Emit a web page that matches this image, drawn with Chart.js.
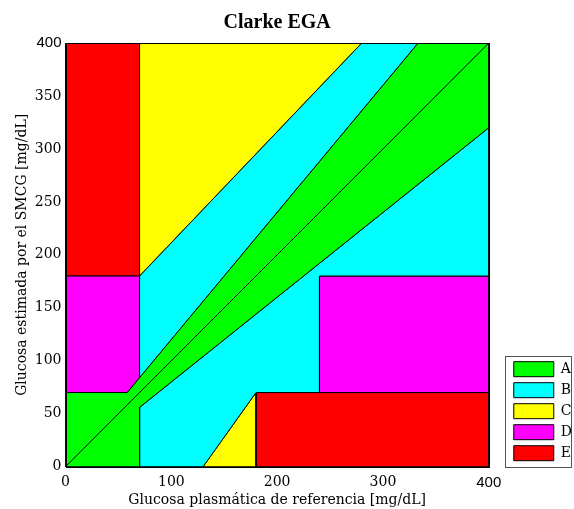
<!DOCTYPE html>
<html>
<head>
<meta charset="utf-8">
<script src="https://cdn.jsdelivr.net/npm/chart.js@4/dist/chart.umd.min.js"></script>
<style>
  html, body { margin: 0; padding: 0; background: #fff; }
  #wrap { width: 574px; height: 509px; }
</style>
</head>
<body>
<div id="wrap"><canvas id="ega"></canvas></div>
<script>
// Zone names and colours
const zoneLabels = ['A', 'B', 'C', 'D', 'E'];
const zoneColors = ['#00ff00', '#00ffff', '#ffff00', '#ff00ff', '#ff0000'];

// Zone outlines (reference glucose x, estimated glucose y), mg/dL
const zoneA_x = [0, 0, 58.3, 333.3, 400, 400, 70, 70, 0];
const zoneA_y = [0, 70, 70, 400, 400, 320, 56, 0, 0];
const zoneBup_x = [70, 70, 280, 333.3, 70];
const zoneBup_y = [84, 180, 400, 400, 84];
const zoneBlow_x = [70, 70, 400, 400, 240, 240, 180, 130, 70];
const zoneBlow_y = [0, 56, 320, 180, 180, 70, 70, 0, 0];
const zoneCup_x = [70, 70, 280, 70];
const zoneCup_y = [180, 400, 400, 180];
const zoneClow_x = [130, 180, 180, 130];
const zoneClow_y = [0, 70, 0, 0];
const zoneDleft_x = [0, 0, 70, 70, 58.3, 0];
const zoneDleft_y = [70, 180, 180, 84, 70, 70];
const zoneDright_x = [240, 240, 400, 400, 240];
const zoneDright_y = [70, 180, 180, 70, 70];
const zoneEup_x = [0, 0, 70, 70, 0];
const zoneEup_y = [180, 400, 400, 180, 180];
const zoneElow_x = [180, 180, 400, 400, 180];
const zoneElow_y = [0, 70, 70, 0, 0];
const identity_x = [0, 400];
const identity_y = [0, 400];

const xTicks = [0, 100, 200, 300, 400];
const yTicks = [0, 50, 100, 150, 200, 250, 300, 350, 400];

function pts(xs, ys) {
    return xs.map((x, i) => ({ x: x, y: ys[i] }));
}

function zone(label, xs, ys) {
    const c = zoneColors[zoneLabels.indexOf(label)];
    return {
        label: label,
        data: pts(xs, ys),
        showLine: true,
        fill: 'shape',
        backgroundColor: c,
        borderColor: '#000',
        borderWidth: 1,
        pointRadius: 0,
        tension: 0,
        order: 5
    };
}

const serif = 'DejaVu Serif';

// the "400" labels are in a sans face in the original
function tickFont(ctx) {
    const top = ctx.tick && ctx.tick.value === 400;
    return { family: top ? 'Liberation Sans' : serif, size: top ? 15 : 14 };
}

const datasets = [
    zone('A', zoneA_x, zoneA_y),
    zone('B', zoneBup_x, zoneBup_y),
    zone('B', zoneBlow_x, zoneBlow_y),
    zone('C', zoneCup_x, zoneCup_y),
    zone('C', zoneClow_x, zoneClow_y),
    zone('D', zoneDleft_x, zoneDleft_y),
    zone('D', zoneDright_x, zoneDright_y),
    zone('E', zoneEup_x, zoneEup_y),
    zone('E', zoneElow_x, zoneElow_y),
    {
        label: 'identity',
        data: pts(identity_x, identity_y),
        showLine: true,
        fill: false,
        borderColor: '#000',
        borderWidth: 1,
        pointRadius: 0,
        order: 0
    }
];

// push the legend a bit away from the plot, like the original
const legendShift = {
    id: 'legendShift',
    afterLayout(chart) {
        const lg = chart.legend;
        lg.left += 19;
        lg.right += 19;
    }
};

// frame round the plot and round the legend
const frames = {
    id: 'frames',
    afterDraw(chart) {
        const ctx = chart.ctx;
        const a = chart.chartArea;
        ctx.save();
        ctx.strokeStyle = '#000';
        ctx.lineWidth = 1;
        ctx.strokeRect(Math.round(a.left) + 0.5, Math.round(a.top) + 0.5,
            Math.round(a.right - a.left), Math.round(a.bottom - a.top));
        const boxes = chart.legend.legendHitBoxes;
        if (boxes && boxes.length) {
            const l = boxes[0].left - 9;
            const t = boxes[0].top - 6;
            ctx.strokeStyle = '#555';
            ctx.strokeRect(Math.round(l) + 0.5, Math.round(t) + 0.5,
                chart.width - 3 - Math.round(l), Math.round(a.bottom) - Math.round(t));
        }
        ctx.restore();
    }
};

new Chart(document.getElementById('ega'), {
    type: 'scatter',
    data: { datasets: datasets },
    options: {
        responsive: true,
        maintainAspectRatio: false,
        animation: false,
        layout: { padding: { top: 4, right: 11, left: 4, bottom: 0 } },
        plugins: {
            tooltip: { enabled: false },
            title: {
                display: true,
                text: 'Clarke EGA',
                color: '#000',
                fullSize: false,
                font: { family: 'Liberation Serif', size: 20, weight: 'bold' },
                padding: { top: 7, bottom: 8 }
            },
            legend: {
                position: 'right',
                align: 'end',
                fullSize: false,
                onClick: null,
                labels: {
                    boxWidth: 40,
                    boxHeight: 15,
                    padding: 6,
                    color: '#000',
                    font: { family: serif, size: 14 },
                    generateLabels: () => zoneLabels.map((l, i) => ({
                        text: l,
                        fillStyle: zoneColors[i],
                        strokeStyle: '#000',
                        lineWidth: 1,
                        hidden: false,
                        datasetIndex: i
                    }))
                }
            }
        },
        scales: {
            x: {
                type: 'linear',
                min: 0,
                max: 400,
                afterBuildTicks: s => { s.ticks = xTicks.map(v => ({ value: v })); },
                grid: { display: false, drawTicks: true, tickLength: 7.5 },
                border: { display: true, color: '#000' },
                ticks: {
                    color: '#000',
                    padding: 0,
                    maxRotation: 0,
                    font: tickFont
                },
                title: {
                    display: true,
                    text: 'Glucosa plasmática de referencia [mg/dL]',
                    color: '#000',
                    font: { family: serif, size: 14 },
                    padding: { top: 0, bottom: 0 }
                }
            },
            y: {
                type: 'linear',
                min: 0,
                max: 400,
                afterBuildTicks: s => { s.ticks = yTicks.map(v => ({ value: v })); },
                grid: { display: false, drawTicks: true, tickLength: 4 },
                border: { display: true, color: '#000' },
                ticks: {
                    color: '#000',
                    padding: 0,
                    font: tickFont
                },
                title: {
                    display: true,
                    text: 'Glucosa estimada por el SMCG [mg/dL]',
                    color: '#000',
                    font: { family: serif, size: 14 },
                    padding: { top: 10, bottom: 4 }
                }
            }
        }
    },
    plugins: [legendShift, frames]
});
</script>
</body>
</html>
